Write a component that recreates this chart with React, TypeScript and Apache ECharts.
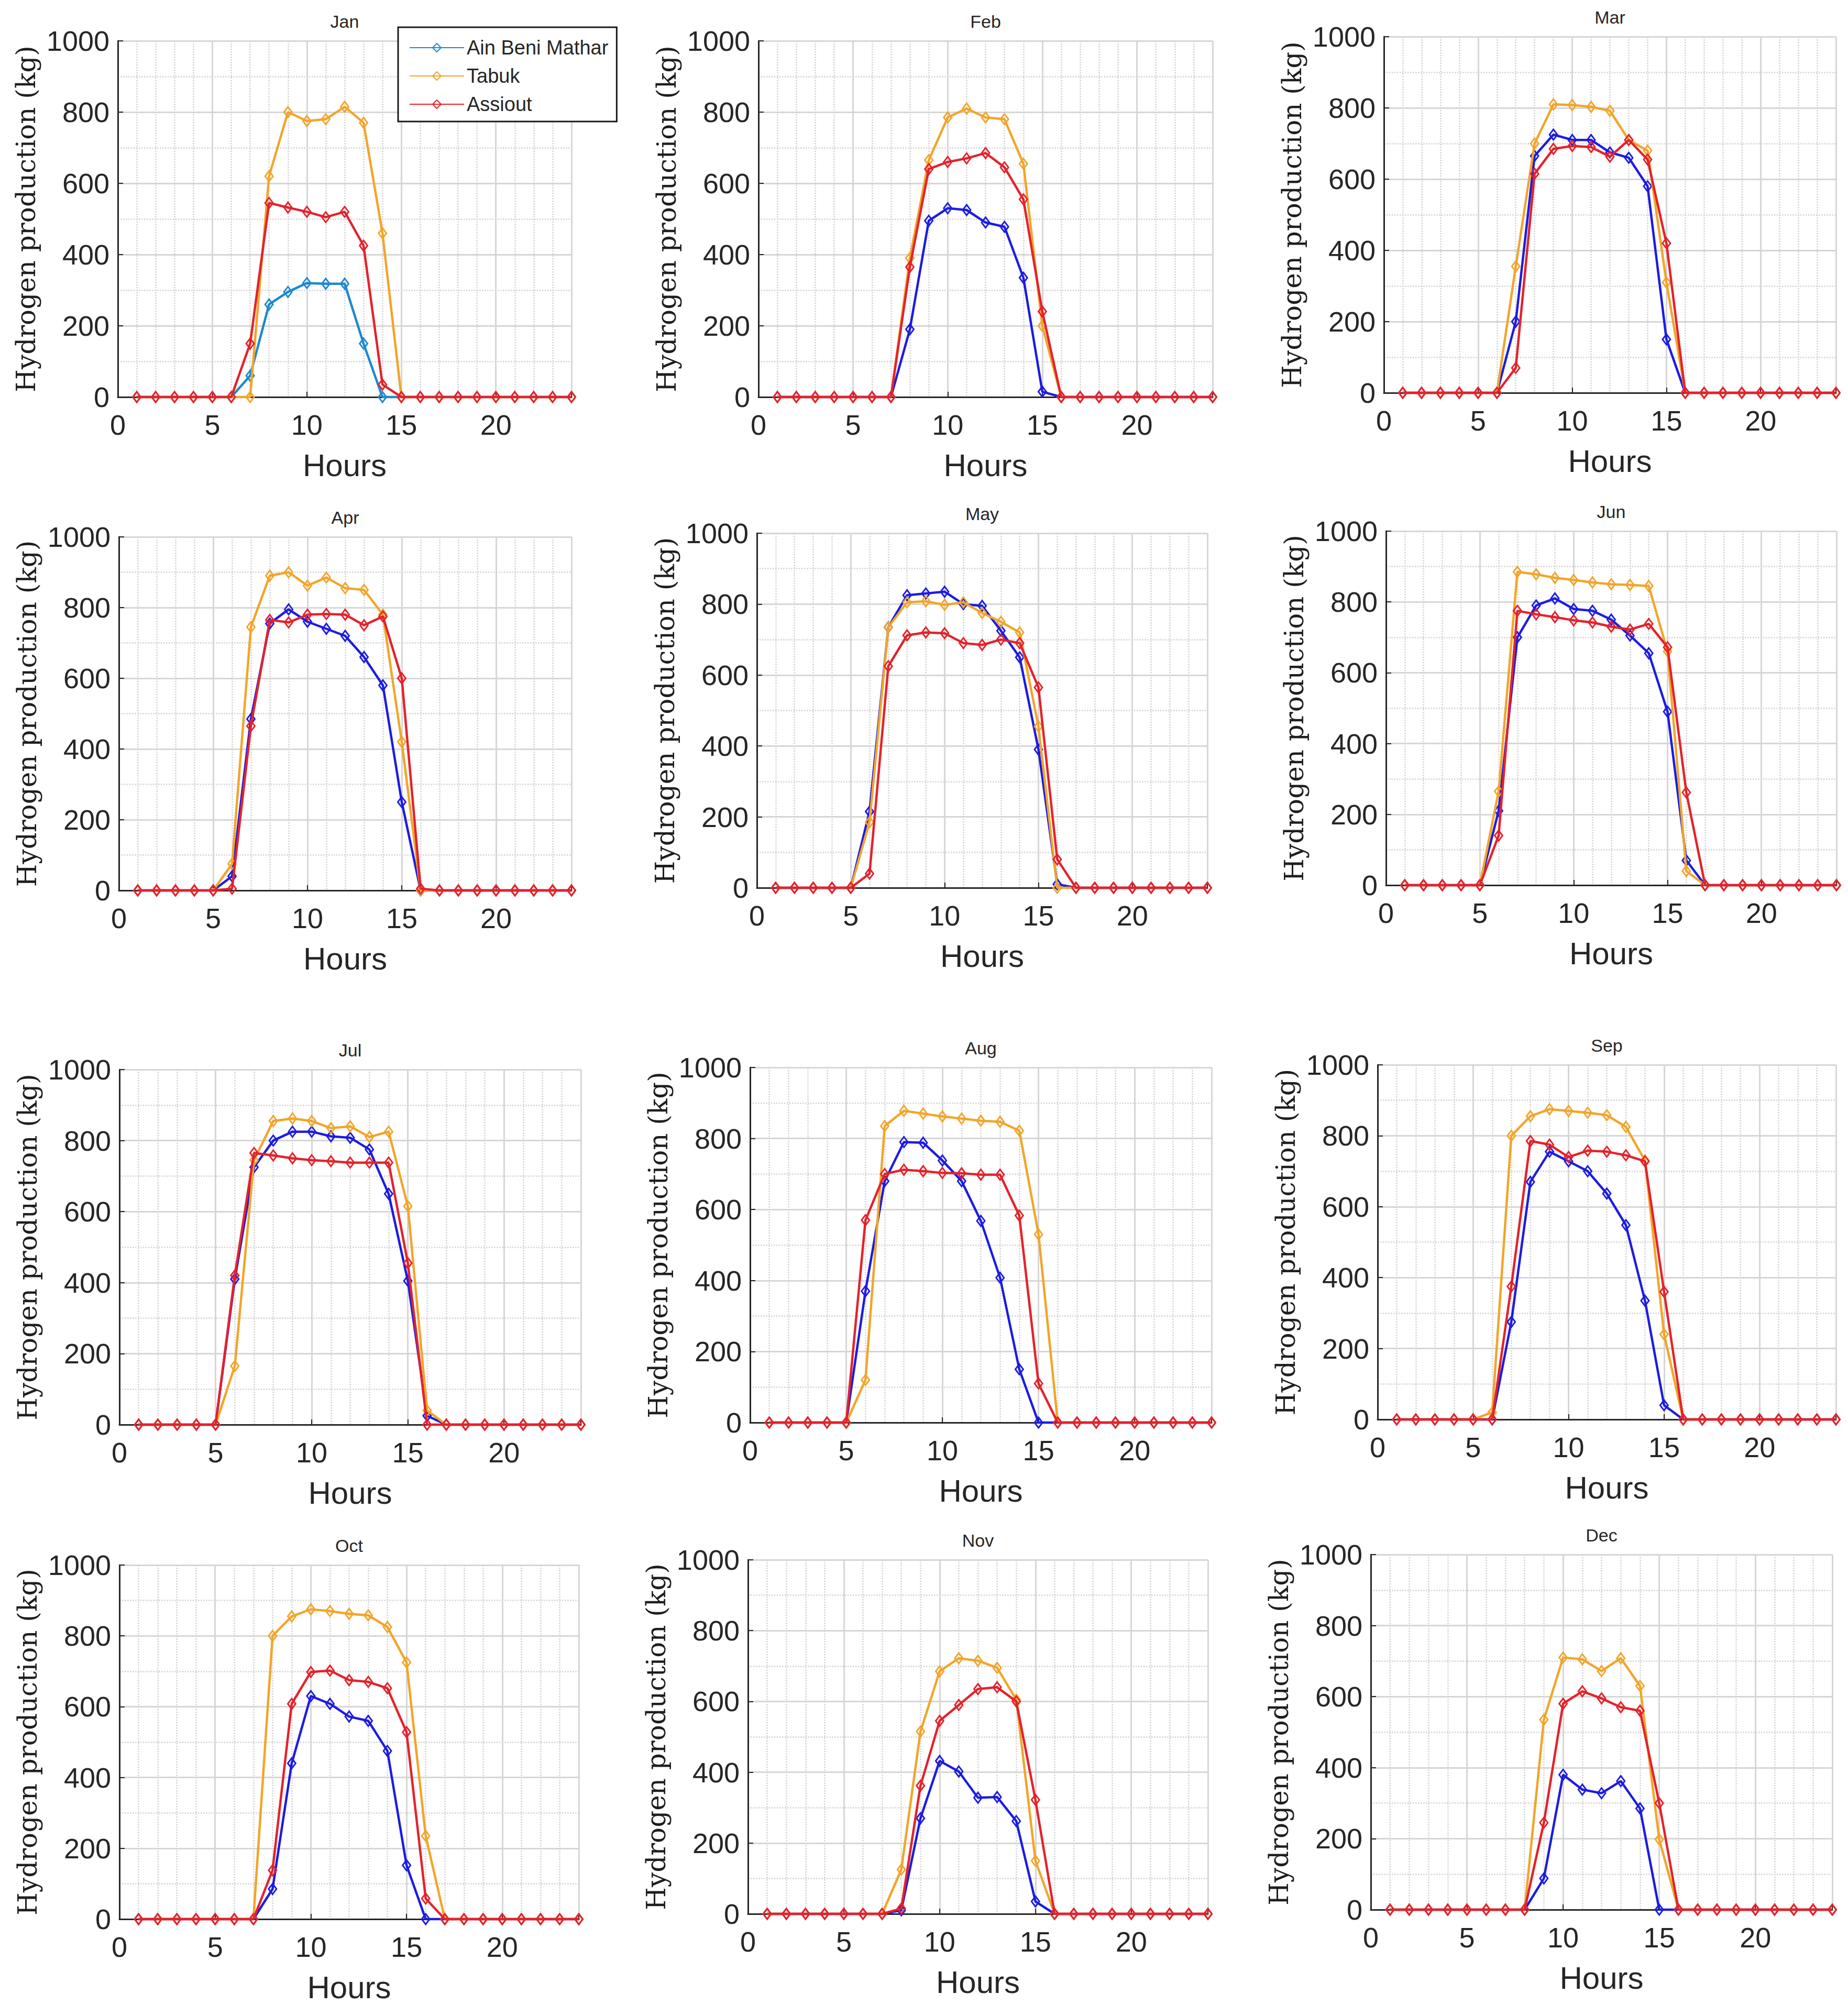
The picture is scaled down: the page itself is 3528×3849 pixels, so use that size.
import React, { useEffect, useRef } from "react";
import * as echarts from "echarts";

const HOURS = [1, 2, 3, 4, 5, 6, 7, 8, 9, 10, 11, 12, 13, 14, 15, 16, 17, 18, 19, 20, 21, 22, 23, 24];
const MONTHS = ["Jan", "Feb", "Mar", "Apr", "May", "Jun", "Jul", "Aug", "Sep", "Oct", "Nov", "Dec"];
const SITES = ["Ain Beni Mathar", "Tabuk", "Assiout"];
const X_TICKS = [0, 5, 10, 15, 20];
const Y_TICKS = [0, 200, 400, 600, 800, 1000];

// Ain Beni Mathar, one row per month, hours 1..24
const AIN_BENI_MATHAR = [
  [0, 0, 0, 0, 0, 0, 60, 260, 295, 320, 318, 318, 150, 0, 0, 0, 0, 0, 0, 0, 0, 0, 0, 0],
  [0, 0, 0, 0, 0, 0, 0, 190, 495, 530, 525, 490, 478, 335, 15, 0, 0, 0, 0, 0, 0, 0, 0, 0],
  [0, 0, 0, 0, 0, 0, 200, 665, 725, 710, 710, 675, 660, 580, 150, 0, 0, 0, 0, 0, 0, 0, 0, 0],
  [0, 0, 0, 0, 0, 40, 485, 755, 795, 760, 740, 720, 660, 580, 250, 0, 0, 0, 0, 0, 0, 0, 0, 0],
  [0, 0, 0, 0, 0, 215, 735, 825, 830, 835, 800, 795, 725, 650, 390, 10, 0, 0, 0, 0, 0, 0, 0, 0],
  [0, 0, 0, 0, 0, 210, 700, 790, 810, 780, 775, 750, 705, 655, 490, 70, 0, 0, 0, 0, 0, 0, 0, 0],
  [0, 0, 0, 0, 0, 410, 725, 800, 825, 825, 812, 808, 775, 650, 405, 25, 0, 0, 0, 0, 0, 0, 0, 0],
  [0, 0, 0, 0, 0, 370, 680, 790, 788, 738, 680, 568, 408, 150, 0, 0, 0, 0, 0, 0, 0, 0, 0, 0],
  [0, 0, 0, 0, 0, 0, 275, 670, 755, 728, 700, 637, 548, 335, 40, 0, 0, 0, 0, 0, 0, 0, 0, 0],
  [0, 0, 0, 0, 0, 0, 0, 85, 440, 630, 608, 572, 560, 475, 152, 0, 0, 0, 0, 0, 0, 0, 0, 0],
  [0, 0, 0, 0, 0, 0, 0, 10, 270, 432, 402, 328, 330, 262, 35, 0, 0, 0, 0, 0, 0, 0, 0, 0],
  [0, 0, 0, 0, 0, 0, 0, 0, 88, 380, 338, 328, 362, 285, 0, 0, 0, 0, 0, 0, 0, 0, 0, 0],
];

// Tabuk
const TABUK = [
  [0, 0, 0, 0, 0, 0, 0, 620, 800, 775, 780, 815, 770, 460, 0, 0, 0, 0, 0, 0, 0, 0, 0, 0],
  [0, 0, 0, 0, 0, 0, 0, 390, 665, 785, 810, 785, 780, 655, 200, 0, 0, 0, 0, 0, 0, 0, 0, 0],
  [0, 0, 0, 0, 0, 0, 355, 700, 810, 808, 803, 792, 710, 680, 310, 0, 0, 0, 0, 0, 0, 0, 0, 0],
  [0, 0, 0, 0, 0, 75, 745, 890, 900, 862, 885, 855, 850, 780, 420, 0, 0, 0, 0, 0, 0, 0, 0, 0],
  [0, 0, 0, 0, 0, 185, 735, 805, 808, 798, 805, 775, 750, 720, 455, 0, 0, 0, 0, 0, 0, 0, 0, 0],
  [0, 0, 0, 0, 0, 265, 885, 878, 868, 862, 855, 850, 848, 845, 660, 40, 0, 0, 0, 0, 0, 0, 0, 0],
  [0, 0, 0, 0, 0, 165, 745, 855, 862, 855, 835, 840, 810, 825, 615, 40, 0, 0, 0, 0, 0, 0, 0, 0],
  [0, 0, 0, 0, 0, 120, 835, 878, 870, 862, 856, 850, 847, 822, 530, 0, 0, 0, 0, 0, 0, 0, 0, 0],
  [0, 0, 0, 0, 0, 20, 800, 855, 875, 870, 865, 858, 825, 730, 240, 0, 0, 0, 0, 0, 0, 0, 0, 0],
  [0, 0, 0, 0, 0, 0, 0, 800, 855, 875, 870, 862, 858, 825, 725, 235, 0, 0, 0, 0, 0, 0, 0, 0],
  [0, 0, 0, 0, 0, 0, 0, 125, 515, 685, 722, 715, 695, 605, 150, 0, 0, 0, 0, 0, 0, 0, 0, 0],
  [0, 0, 0, 0, 0, 0, 0, 0, 535, 710, 705, 672, 708, 630, 198, 0, 0, 0, 0, 0, 0, 0, 0, 0],
];

// Assiout
const ASSIOUT = [
  [0, 0, 0, 0, 0, 0, 150, 545, 532, 520, 505, 520, 425, 35, 0, 0, 0, 0, 0, 0, 0, 0, 0, 0],
  [0, 0, 0, 0, 0, 0, 0, 365, 640, 660, 670, 685, 645, 555, 240, 0, 0, 0, 0, 0, 0, 0, 0, 0],
  [0, 0, 0, 0, 0, 0, 70, 615, 685, 693, 690, 663, 710, 655, 420, 0, 0, 0, 0, 0, 0, 0, 0, 0],
  [0, 0, 0, 0, 0, 5, 465, 765, 758, 780, 782, 780, 750, 775, 600, 5, 0, 0, 0, 0, 0, 0, 0, 0],
  [0, 0, 0, 0, 0, 40, 625, 712, 720, 718, 690, 685, 700, 690, 565, 80, 0, 0, 0, 0, 0, 0, 0, 0],
  [0, 0, 0, 0, 0, 140, 775, 765, 757, 748, 742, 730, 722, 738, 672, 262, 0, 0, 0, 0, 0, 0, 0, 0],
  [0, 0, 0, 0, 0, 420, 765, 758, 750, 745, 742, 738, 738, 738, 455, 0, 0, 0, 0, 0, 0, 0, 0, 0],
  [0, 0, 0, 0, 0, 570, 700, 712, 708, 703, 702, 698, 698, 583, 110, 0, 0, 0, 0, 0, 0, 0, 0, 0],
  [0, 0, 0, 0, 0, 0, 375, 785, 775, 740, 758, 755, 745, 728, 360, 0, 0, 0, 0, 0, 0, 0, 0, 0],
  [0, 0, 0, 0, 0, 0, 0, 138, 608, 698, 702, 675, 670, 652, 528, 58, 0, 0, 0, 0, 0, 0, 0, 0],
  [0, 0, 0, 0, 0, 0, 0, 15, 362, 545, 590, 635, 640, 600, 322, 0, 0, 0, 0, 0, 0, 0, 0, 0],
  [0, 0, 0, 0, 0, 0, 0, 0, 245, 580, 615, 595, 570, 560, 300, 0, 0, 0, 0, 0, 0, 0, 0, 0],
];

// Layout: plot-area boxes in page pixels (left, right, top, bottom)
const PANELS = [
  { l: 225, r: 1091, t: 78, b: 758 },
  { l: 1448, r: 2315, t: 78, b: 758 },
  { l: 2642, r: 3505, t: 70, b: 750 },
  { l: 227, r: 1091, t: 1025, b: 1700 },
  { l: 1445, r: 2305, t: 1018, b: 1695 },
  { l: 2646, r: 3506, t: 1014, b: 1690 },
  { l: 228, r: 1109, t: 2042, b: 2720 },
  { l: 1432, r: 2313, t: 2038, b: 2716 },
  { l: 2630, r: 3505, t: 2033, b: 2710 },
  { l: 228, r: 1105, t: 2988, b: 3664 },
  { l: 1428, r: 2306, t: 2978, b: 3654 },
  { l: 2617, r: 3498, t: 2968, b: 3646 },
];

const OFF = 8;
const TEXT = "#262626";
const SANS = "Liberation Sans";
const COLOR_ABM_JAN = "#1e88cf";
const COLOR_ABM = "#1c1ce2";
const COLOR_TABUK = "#f2a52a";
const COLOR_ASSIOUT = "#e4222b";

function buildOption() {
  const grid: any[] = [];
  const xAxis: any[] = [];
  const yAxis: any[] = [];
  const title: any[] = [];
  const series: any[] = [];

  PANELS.forEach((p, i) => {
    grid.push({
      left: p.l - OFF,
      top: p.t - OFF,
      width: p.r - p.l,
      height: p.b - p.t,
      containLabel: false,
    });
    title.push({
      text: MONTHS[i],
      left: (p.l + p.r) / 2 - OFF,
      top: p.t - OFF - 54,
      textAlign: "center",
      padding: 0,
      textStyle: { fontFamily: SANS, fontSize: 34, fontWeight: "normal", color: TEXT },
    });
    // minor x axis (dotted grid every hour)
    xAxis.push({
      gridIndex: i,
      type: "value",
      position: "bottom",
      min: 0,
      max: 24,
      interval: 1,
      axisLine: { show: false },
      axisTick: { show: false },
      axisLabel: { show: false },
      splitLine: { show: true, lineStyle: { color: "#d2d2d2", type: "dotted", width: 2.5 } },
    });
    // major x axis
    xAxis.push({
      gridIndex: i,
      type: "value",
      position: "bottom",
      min: 0,
      max: 24,
      interval: 5,
      axisLine: { show: true, onZero: false, lineStyle: { color: TEXT, width: 3 } },
      axisTick: { show: true, inside: true, length: 10, lineStyle: { color: TEXT, width: 2 } },
      axisLabel: {
        show: true,
        margin: 26,
        fontFamily: SANS,
        fontSize: 54,
        color: TEXT,
        formatter: (v: number) => (X_TICKS.indexOf(v) >= 0 ? String(v) : ""),
      },
      splitLine: { show: true, lineStyle: { color: "#d6d6d6", width: 3 } },
      name: "Hours",
      nameLocation: "middle",
      nameGap: 100,
      nameTextStyle: { fontFamily: SANS, fontSize: 60, color: TEXT },
    });
    // minor y axis
    yAxis.push({
      gridIndex: i,
      type: "value",
      position: "left",
      min: 0,
      max: 1000,
      interval: 100,
      axisLine: { show: false },
      axisTick: { show: false },
      axisLabel: { show: false },
      splitLine: { show: true, lineStyle: { color: "#d2d2d2", type: "dotted", width: 2.5 } },
    });
    // major y axis
    yAxis.push({
      gridIndex: i,
      type: "value",
      position: "left",
      min: 0,
      max: 1000,
      interval: 200,
      axisLine: { show: true, onZero: false, lineStyle: { color: TEXT, width: 3 } },
      axisTick: { show: true, inside: true, length: 10, lineStyle: { color: TEXT, width: 2 } },
      axisLabel: {
        show: true,
        margin: 16,
        fontFamily: SANS,
        fontSize: 54,
        color: TEXT,
        formatter: (v: number) => (Y_TICKS.indexOf(v) >= 0 ? String(v) : ""),
      },
      splitLine: { show: true, lineStyle: { color: "#d6d6d6", width: 3 } },
      name: "Hydrogen production (kg)",
      nameLocation: "middle",
      nameRotate: 90,
      nameGap: 150,
      nameTextStyle: { fontFamily: "DejaVu Serif", fontSize: 50, color: "#1e1e1e" },
    });

    const groups = [
      { name: SITES[0], data: AIN_BENI_MATHAR[i], color: i === 0 ? COLOR_ABM_JAN : COLOR_ABM },
      { name: SITES[1], data: TABUK[i], color: COLOR_TABUK },
      { name: SITES[2], data: ASSIOUT[i], color: COLOR_ASSIOUT },
    ];
    groups.forEach((g, j) => {
      series.push({
        type: "line",
        name: g.name,
        xAxisIndex: 2 * i + 1,
        yAxisIndex: 2 * i + 1,
        data: HOURS.map((h, k) => [h, g.data[k]]),
        symbol: "diamond",
        symbolSize: [15, 20],
        showSymbol: true,
        clip: false,
        z: 3 + j,
        lineStyle: { color: g.color, width: 4.5 },
        itemStyle: { color: "rgba(255,255,255,0)", borderColor: g.color, borderWidth: 3 },
        emphasis: { disabled: true },
      });
    });
  });

  return {
    animation: false,
    backgroundColor: "#ffffff",
    title,
    grid,
    xAxis,
    yAxis,
    series,
    legend: {
      show: true,
      data: SITES,
      orient: "vertical",
      left: 760 - OFF,
      top: 52 - OFF,
      selectedMode: false,
      backgroundColor: "#ffffff",
      borderColor: "#1a1a1a",
      borderWidth: 3,
      borderRadius: 0,
      padding: [19, 16, 13, 21],
      itemWidth: 104,
      itemHeight: 20,
      itemGap: 14,
      textStyle: { fontFamily: SANS, fontSize: 38, lineHeight: 40, color: TEXT },
    },
  };
}

export default function App() {
  const ref = useRef<HTMLDivElement>(null);
  useEffect(() => {
    if (!ref.current) return;
    const chart = echarts.init(ref.current, null, { renderer: "svg" });
    chart.setOption(buildOption() as any);
    return () => chart.dispose();
  }, []);
  return <div ref={ref} style={{ width: 3512, height: 3833 }} />;
}
